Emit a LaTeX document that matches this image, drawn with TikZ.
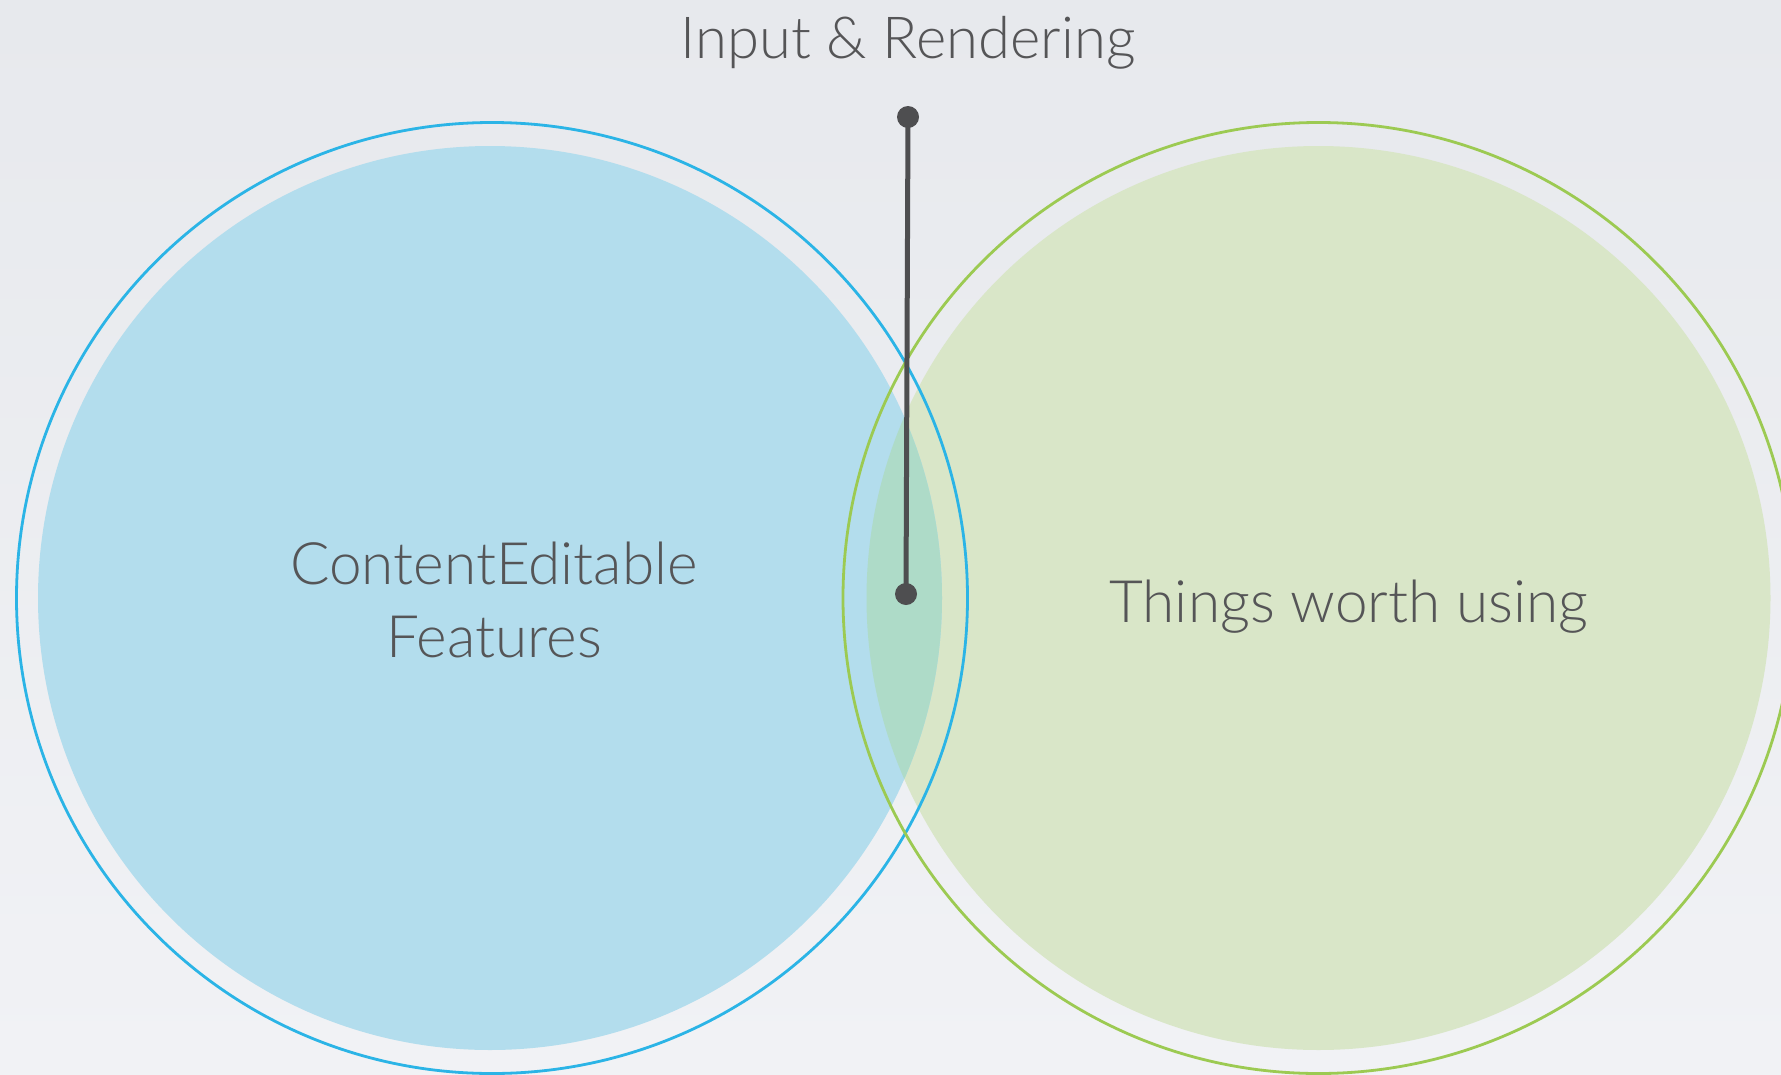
\documentclass[tikz,border=0pt]{standalone}
\usepackage{fontspec}
\setmainfont{Lato}[UprightFont={* Light}]
\definecolor{bgtop}{HTML}{E7E9ED}
\definecolor{bgbot}{HTML}{F1F2F5}
\definecolor{bluefill}{HTML}{B3DDED}
\definecolor{bluering}{HTML}{2BB4E6}
\definecolor{greenfill}{HTML}{D9E6C8}
\definecolor{greenring}{HTML}{9CCA52}
\definecolor{lensfill}{HTML}{AEDBC8}
\definecolor{ink}{HTML}{555557}
\definecolor{pin}{HTML}{4E4E50}
\tikzset{
  fillcirc/.style={circle, minimum size=904pt, inner sep=0pt, draw=none},
  ringcirc/.style={circle, minimum size=951pt, inner sep=0pt, line width=2.8pt},
  pindot/.style={circle, fill=pin, minimum size=22pt, inner sep=0pt},
  pinline/.style={draw=pin, line width=5pt},
  label/.style={text=ink, font=\fontsize{58.5}{73}\selectfont, align=center, inner sep=0pt},
}
\begin{document}
\begin{tikzpicture}[x=1pt,y=-1pt]
\shade[top color=bgtop, bottom color=bgbot] (0,0) rectangle (1781,1074);
\useasboundingbox (0,0) rectangle (1781,1074);
\node[fillcirc, fill=greenfill] (gfill) at (1318.5,598) {};
\node[fillcirc, fill=bluefill] (bfill) at (490,598) {};
\begin{scope}
  \clip (1318.5,598) circle [radius=452pt];
  \fill[lensfill] (490,598) circle [radius=452pt];
\end{scope}
\node[ringcirc, draw=bluering] (bring) at (492,598) {};
\node[ringcirc, draw=greenring] (gring) at (1318.5,598) {};
\node[pindot] (ptop) at (908,117) {};
\node[pindot] (pbot) at (906,594) {};
\draw[pinline] (ptop.center) -- (pbot.center);
\node[label, anchor=base, font=\fontsize{58}{64}\selectfont] (title) at (908,58) {Input \& Rendering};
\node[label, anchor=base] (left1) at (494,584) {ContentEditable};
\node[label, anchor=base] (left2) at (494,657) {Features};
\node[label, anchor=base] (right) at (1349,622) {Things worth using};
\end{tikzpicture}
\end{document}
